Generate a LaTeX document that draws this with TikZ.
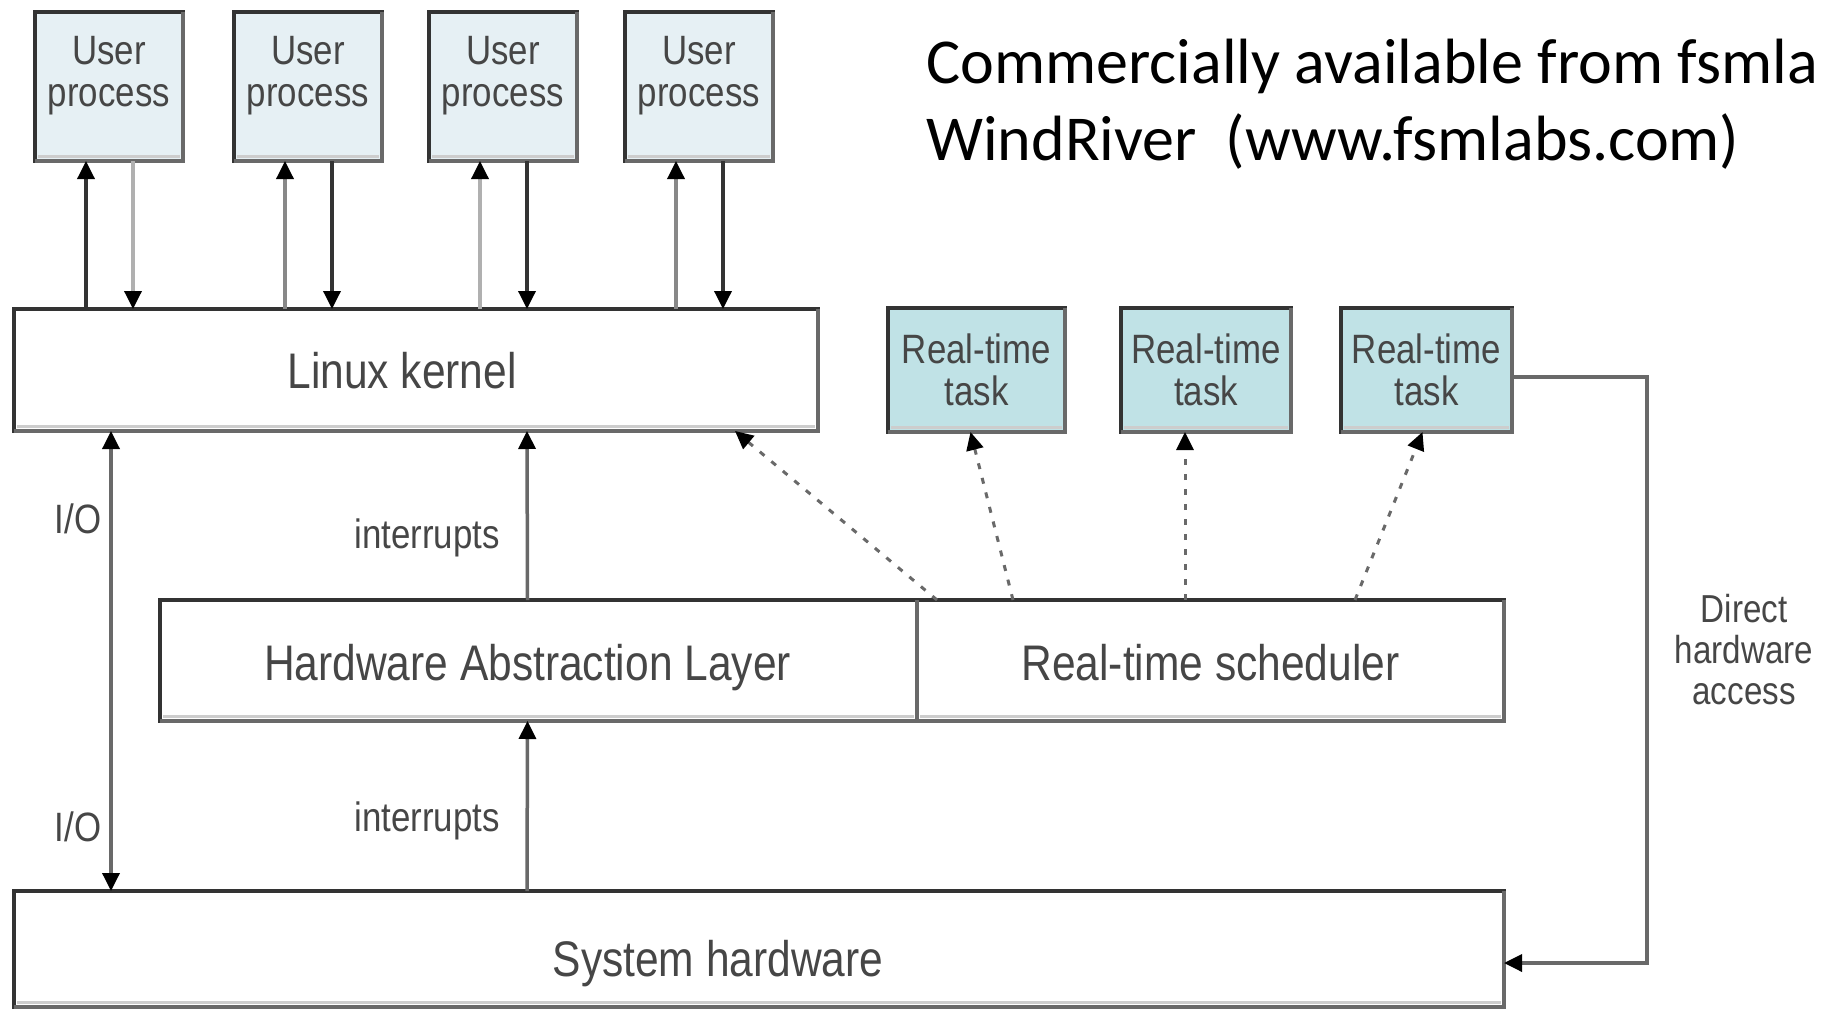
\documentclass[tikz,border=0pt]{standalone}
\usepackage{fontspec}
\usetikzlibrary{arrows.meta}
\newfontfamily\diafont[FakeStretch=0.85]{Liberation Sans}
\newfontfamily\titlefont{Carlito}
\definecolor{edgedark}{RGB}{51,51,51}
\definecolor{edgegray}{RGB}{105,105,105}
\definecolor{edgelight}{RGB}{205,205,205}
\definecolor{linkmid}{RGB}{136,136,136}
\definecolor{linklight}{RGB}{176,176,176}
\definecolor{userfill}{RGB}{230,240,244}
\definecolor{taskfill}{RGB}{192,226,230}
\definecolor{textgray}{RGB}{70,70,70}
\tikzset{
  >={Triangle[length=18pt,width=17pt,color=black]},
  box/.style={draw=edgedark, line width=4pt, fill=white, inner sep=0pt, outer sep=0pt},
  boxtext/.style={text=textgray, font=\diafont\fontsize{50}{50}\selectfont, text depth=0pt},
  userbox/.style={box, fill=userfill, minimum width=148pt, minimum height=149pt},
  taskbox/.style={box, fill=taskfill, minimum height=124pt, align=center,
    text=textgray, font=\diafont\fontsize{41}{42}\selectfont},
  lbl/.style={font=\diafont\fontsize{41}{42}\selectfont, text=textgray, align=center, inner sep=0pt},
  link/.style={line width=3.5pt, edgegray, ->},
  dashlink/.style={link, dash pattern=on 6pt off 9pt, line width=3pt},
}
\begin{document}
\begin{tikzpicture}[x=1pt, y=-1pt]
    \clip (0, 0) rectangle (1821, 1009);
    % title
    \node[font=\titlefont\fontsize{64}{76}\selectfont, anchor=base west, inner sep=0pt] (t1) at (926, 83) {Commercially available from fsmla};
    \node[font=\titlefont\fontsize{64}{76}\selectfont, anchor=base west, inner sep=0pt] (t2) at (926, 160) {WindRiver~~(www.fsmlabs.com)};
    % user processes
    \node[userbox, label={[lbl, yshift=11pt]center:User\\process}] (up1) at (109, 86.5) {};
    \node[userbox, label={[lbl, yshift=11pt]center:User\\process}] (up2) at (308, 86.5) {};
    \node[userbox, label={[lbl, yshift=11pt]center:User\\process}] (up3) at (503, 86.5) {};
    \node[userbox, label={[lbl, yshift=11pt]center:User\\process}] (up4) at (699, 86.5) {};
    % layers
    \node[box, minimum width=804pt, minimum height=122pt,
      label={[boxtext, xshift=-14pt]center:Linux kernel}] (kernel) at (416, 370) {};
    \node[taskbox, minimum width=177pt] (rt1) at (976.5, 370) {Real-time\\task};
    \node[taskbox, minimum width=170pt] (rt2) at (1206, 370) {Real-time\\task};
    \node[taskbox, minimum width=171pt] (rt3) at (1426.5, 370) {Real-time\\task};
    \node[box, minimum width=757pt, minimum height=121pt,
      label={[boxtext, xshift=-11pt, yshift=-2pt]center:Hardware Abstraction Layer}] (hal) at (538.5, 660.5) {};
    \node[box, minimum width=587pt, minimum height=121pt,
      label={[boxtext, yshift=-2pt]center:Real-time scheduler}] (sched) at (1210.5, 660.5) {};
    \node[box, minimum width=1490pt, minimum height=116pt,
      label={[boxtext, xshift=-41pt, yshift=-9pt]center:System hardware}] (hw) at (759, 949) {};
    % shaded lower and right edges
    \foreach \n in {up1, up2, up3, up4, kernel, rt1, rt2, rt3, hal, sched, hw} {
        \draw[edgelight, line width=2.5pt] ([shift={(3pt,4.5pt)}]\n.south west) -- ([shift={(-3pt,4.5pt)}]\n.south east);
        \draw[edgegray, line width=4pt] (\n.south west) -- (\n.south east) -- (\n.north east);
    }
    % user process <-> kernel
    \foreach \i/\cu/\cd in {1/edgedark/linklight, 2/linkmid/edgedark, 3/linklight/edgedark, 4/linkmid/edgedark} {
        \path ([xshift=-23pt]up\i.south) coordinate (u\i) ([xshift=24pt]up\i.south) coordinate (d\i);
        \draw[link, \cu] (u\i |- kernel.north) -- (u\i);
        \draw[link, \cd] (d\i) -- (d\i |- kernel.north);
    }
    % I/O and interrupts
    \draw[link, <->] ([xshift=97pt]kernel.south west) -- ([xshift=97pt]hw.north west);
    \draw[link] ([xshift=-11pt]hal.north) -- ([xshift=111pt]kernel.south);
    \draw[link] ([xshift=-232pt]hw.north) -- ([xshift=-11pt]hal.south);
    \node[lbl] (io1) at (78, 519) {I/O};
    \node[lbl] (io2) at (78, 827) {I/O};
    \node[lbl] (irq1) at (427, 538) {interrupts};
    \node[lbl] (irq2) at (427, 821) {interrupts};
    % scheduler dispatch
    \draw[dashlink] ([xshift=20pt]sched.north west) -- ([xshift=-83pt]kernel.south east);
    \draw[dashlink] ([xshift=96pt]sched.north west) -- ([xshift=-6pt]rt1.south);
    \draw[dashlink] ([xshift=268pt]sched.north west) -- ([xshift=-21pt]rt2.south);
    \draw[dashlink] ([xshift=438pt]sched.north west) -- ([xshift=-4pt]rt3.south);
    % direct access path
    \draw[link] ([yshift=-7pt]rt3.east) -- ++(135, 0) |- ([yshift=-14pt]hw.east);
    \node[lbl, font=\diafont\fontsize{39}{41}\selectfont] (dha) at (1744, 650) {Direct\\hardware\\access};
\end{tikzpicture}
\end{document}
